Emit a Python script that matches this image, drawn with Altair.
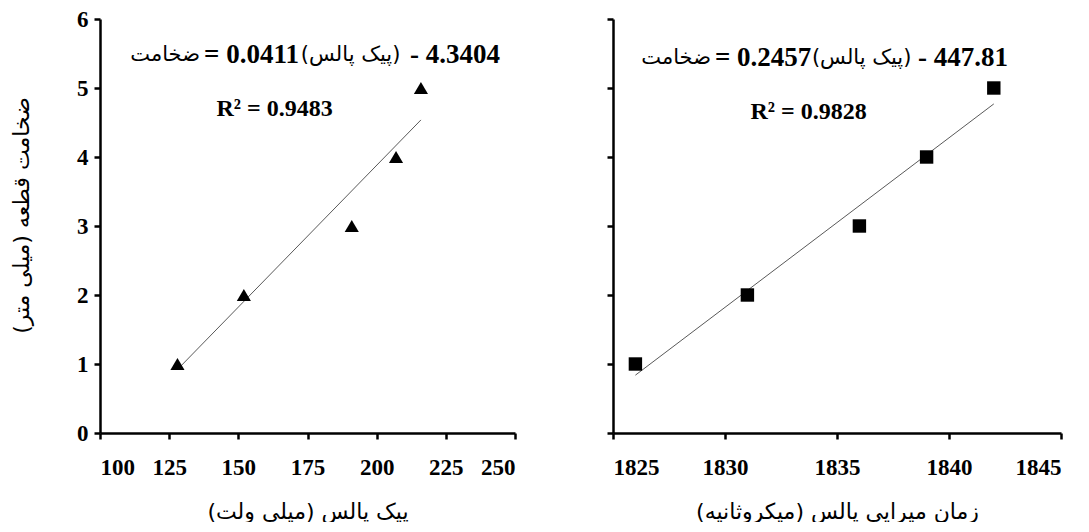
import altair as alt
import pandas as pd

# ---- data ----
peak_mv = [128, 152, 191, 207, 216]          # پیک پالس (میلی ولت)
thickness_a = [1, 2, 3, 4, 5]               # ضخامت قطعه (میلی متر)
decay_us = [1826, 1831, 1836, 1839, 1842]    # زمان میرایی پالس (میکروثانیه)
thickness_b = [1, 2, 3, 4, 5]
slope_a, intercept_a = 0.0411, -4.3404
slope_b, intercept_b = 0.2457, -447.81
r2_a, r2_b = "0.9483", "0.9828"
x_ticks_a = [100, 125, 150, 175, 200, 225, 250]
x_ticks_b = [1825, 1830, 1835, 1840, 1845]
y_ticks = [0, 1, 2, 3, 4, 5, 6]

SERIF = "Liberation Serif"
FA = "DejaVu Sans"
RLM = "\u200f"

title_x_a = RLM + "پیک پالس (میلی ولت)" + RLM
title_x_b = RLM + "زمان میرایی پالس (میکروثانیه)" + RLM
title_y = RLM + "ضخامت قطعه (میلی متر)" + RLM
word_thick = "ضخامت"
word_peak = "(پیک پالس)"


def seg(x, y, text, align, bold, font, size):
    df = pd.DataFrame({"x": [x], "y": [y], "t": [text]})
    return alt.Chart(df).mark_text(
        align=align, baseline="middle", font=font, fontSize=size,
        fontWeight="bold" if bold else "normal", color="black"
    ).encode(x="x:Q", y="y:Q", text="t:N")


def panel(xs, ys, slope, intercept, xdom, xticks, shape, size, xtitle,
          show_y, eq, r2, r2pos, width):
    xscale = alt.Scale(domain=xdom, nice=False, zero=False)
    yscale = alt.Scale(domain=[0, 6], nice=False, zero=False)
    xenc = alt.X("x:Q", scale=xscale, title=xtitle,
                 axis=alt.Axis(values=xticks, format="d"))
    if show_y:
        yenc = alt.Y("y:Q", scale=yscale, title=title_y,
                     axis=alt.Axis(values=y_ticks, format="d", titleY=196))
    else:
        yenc = alt.Y("y:Q", scale=yscale, title=None,
                     axis=alt.Axis(values=y_ticks, labels=False))
    trend = alt.Chart(pd.DataFrame({"x": [min(xs), max(xs)]})).transform_calculate(
        y=f"{slope}*datum.x + ({intercept})"
    ).mark_line(color="#595959", strokeWidth=1).encode(x=xenc, y=yenc)
    pts = alt.Chart(pd.DataFrame({"x": xs, "y": ys})).mark_point(
        shape=shape, filled=True, color="black", size=size, opacity=1
    ).encode(x="x:Q", y="y:Q")
    layers = [trend, pts]
    ey = eq["y"]
    layers.append(seg(eq["x_thick"], ey, word_thick, "right", False, FA, 21))
    layers.append(seg(eq["x_slope"], ey, "= " + str(slope), "left", True, SERIF, 27))
    layers.append(seg(eq["x_peak"], ey, word_peak, "left", False, FA, 21))
    layers.append(seg(eq["x_int"], ey, "- " + str(abs(intercept)), "right", True, SERIF, 27))
    layers.append(seg(r2pos[0], r2pos[1], "R² = " + r2, "center", True, SERIF, 24))
    return alt.layer(*layers).properties(width=width, height=414)


left = panel(peak_mv, thickness_a, slope_a, intercept_a, [100, 250], x_ticks_a,
             "triangle-up", 200, title_x_a, True,
             {"y": 5.48, "x_thick": 136.14, "x_slope": 137.59, "x_peak": 172.6, "x_int": 244.58},
             r2_a, (163.1, 4.69), 415)
right = panel(decay_us, thickness_b, slope_b, intercept_b, [1825, 1845], x_ticks_b,
              "square", 180, title_x_b, False,
              {"y": 5.43, "x_thick": 1829.375, "x_slope": 1829.55, "x_peak": 1833.88, "x_int": 1842.63},
              r2_b, (1833.73, 4.65), 448)

chart = alt.hconcat(left, right, spacing=88).properties(
    padding={"left": 2, "top": 0, "right": 5, "bottom": 0}
).configure_view(stroke=None).configure_axis(
    grid=False, domainColor="black", domainWidth=2.5, tickColor="black",
    tickWidth=2.5, tickSize=6, labelFont=SERIF, labelFontSize=23,
    labelFontWeight="bold", labelColor="black", titleFont=FA,
    titleFontSize=22, titleFontWeight="normal", titleColor="black"
).configure_axisX(labelPadding=17, titlePadding=22).configure_axisY(
    labelPadding=6, titlePadding=43
)

chart.save("out.html", embed_options={"renderer": "svg", "actions": False})
